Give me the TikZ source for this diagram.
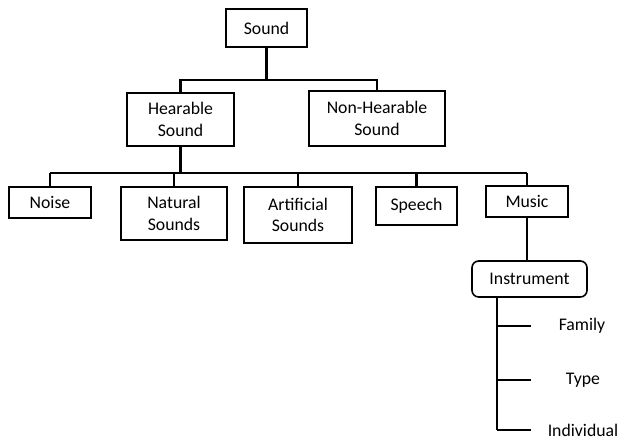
\documentclass[tikz,border=0pt]{standalone}
\usepackage{fontspec}
\setmainfont{Carlito}
\usepackage{tikz}

\begin{document}
\begin{tikzpicture}[
  x=0.75pt, y=-0.75pt,
  font=\fontsize{13.3}{16.3}\selectfont,
  cat/.style={draw, line width=1.2pt, align=center, inner sep=2pt},
  sub/.style={cat, rounded corners=5pt},
  leaf/.style={inner sep=1pt},
  link/.style={line width=1.9pt}
]
\useasboundingbox (0,0) rectangle (619,440);

% top levels
\node[cat, minimum width=81*0.75pt, minimum height=38*0.75pt] (sound) at (266.5,28) {Sound};
\node[cat, minimum width=107*0.75pt, minimum height=53*0.75pt] (hear) at (180.5,119.5) {Hearable\\Sound};
\node[cat, minimum width=136*0.75pt, minimum height=55*0.75pt] (nonhear) at (377,118.5) {Non-Hearable\\Sound};

% kinds of hearable sound
\node[cat, minimum width=82*0.75pt, minimum height=31*0.75pt] (noise) at (50,202.5) {Noise};
\node[cat, minimum width=106*0.75pt, minimum height=53*0.75pt] (natural) at (174,213.5) {Natural\\Sounds};
\node[cat, minimum width=108*0.75pt, minimum height=56*0.75pt] (artificial) at (298,215) {Artificial\\Sounds};
\node[cat, minimum width=81*0.75pt, minimum height=38*0.75pt] (speech) at (416.5,206) {Speech};
\node[cat, minimum width=82*0.75pt, minimum height=31*0.75pt] (music) at (527,201.5) {Music};

% music detail
\node[sub, minimum width=115*0.75pt, minimum height=36*0.75pt] (instr) at (529.5,279) {Instrument};
\node[leaf] (family) at (582,326) {Family};
\node[leaf] (type) at (583,380) {Type};
\node[leaf] (individual) at (583,430) {Individual};

\coordinate (bus1) at (0,80);
\coordinate (bus2) at (0,173);
\coordinate (stem) at (497,297);
\coordinate (tick) at (531,0);

\draw[link] (sound) -- (sound |- bus1);
\draw[link] (hear) -- (hear |- bus1) -- (nonhear |- bus1) -- (nonhear);
\draw[link] (hear) -- (hear |- bus2);
\draw[link] (noise |- bus2) -- (music |- bus2);
\foreach \k in {noise,natural,artificial,speech,music}
  \draw[link] (\k) -- (\k |- bus2);
\draw[link] (music) -- (music |- instr.north);
\draw[link] (stem) -- (stem |- individual);
\foreach \k in {family,type,individual}
  \draw[link] (stem |- \k) -- (tick |- \k);
\end{tikzpicture}
\end{document}
